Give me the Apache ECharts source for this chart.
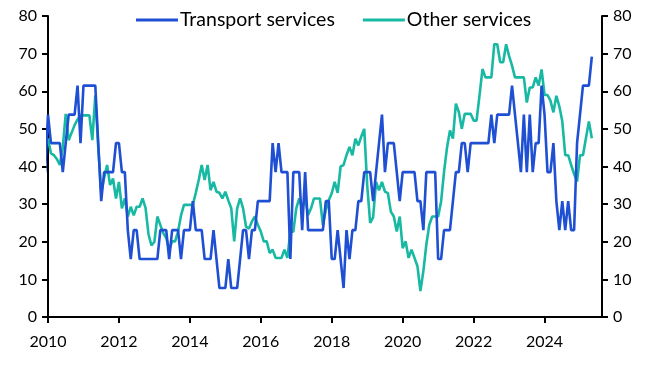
<!DOCTYPE html>
<html>
<head>
<meta charset="utf-8">
<script src="https://cdn.jsdelivr.net/npm/echarts@6/dist/echarts.min.js"></script>
<style>
html,body{margin:0;padding:0;background:#fff;}
#chart{width:657px;height:368px;}
</style>
</head>
<body>
<div id="chart"></div>
<script>
// Monthly series, first value = Dec 2009
const startYear = 2009;
const startMonth = 11; // 0-based month (December)
const seriesNames = ['Transport services', 'Other services'];
const xTickLabels = ['2010','2012','2014','2016','2018','2020','2022','2024'];
const yTickLabels = ['0','10','20','30','40','50','60','70','80'];

const transport = [
38.5,
53.8,46.2,46.2,46.2,46.2,38.5,46.2,53.8,53.8,53.8,61.5,46.2,
61.5,61.5,61.5,61.5,61.5,46.2,30.8,38.5,38.5,38.5,38.5,46.2,
46.2,38.5,38.5,23.1,15.4,23.1,23.1,15.4,15.4,15.4,15.4,15.4,
15.4,15.4,23.1,23.1,23.1,15.4,23.1,23.1,23.1,15.4,23.1,23.1,
23.1,30.8,23.1,23.1,23.1,15.4,15.4,15.4,23.1,15.4,7.7,7.7,
7.7,15.4,7.7,7.7,7.7,15.4,23.1,23.1,15.4,23.1,23.1,30.8,
30.8,30.8,30.8,30.8,46.2,38.5,46.2,38.5,38.5,38.5,15.4,38.5,
38.5,38.5,23.1,38.5,23.1,23.1,23.1,23.1,23.1,23.1,30.8,30.8,
15.4,15.4,23.1,15.4,7.7,23.1,15.4,23.1,23.1,30.8,30.8,38.5,
38.5,38.5,30.8,38.5,46.2,53.8,38.5,46.2,46.2,46.2,38.5,30.8,
38.5,38.5,38.5,38.5,38.5,30.8,30.8,23.1,38.5,38.5,38.5,38.5,
15.4,15.4,23.1,23.1,23.1,30.8,38.5,38.5,46.2,46.2,38.5,46.2,
46.2,46.2,46.2,46.2,46.2,46.2,53.8,46.2,53.8,53.8,53.8,53.8,
53.8,61.5,53.8,46.2,38.5,53.8,38.5,53.8,38.5,46.2,46.2,61.5,
53.8,38.5,38.5,46.2,30.8,23.1,30.8,23.1,30.8,23.1,23.1,46.2,
53.8,61.5,61.5,61.5,69.2
];

const other = [
46,
47.4,43.5,43,42,40.4,45,54,47,49,51,52.5,53.6,
53.6,53.6,53.6,47,58.9,45,33.3,37,40.4,35.1,36.8,31.5,
35.9,28.9,31.5,26.7,29.3,27,29.3,29.3,31.5,29,22,19,
20,26.7,24.5,22.3,21,17.9,20.1,20.1,22.7,27,29.8,29.8,
29.8,29.8,33,36.4,40.4,36.4,40.4,33.7,35.9,33.3,33,31.5,
33.3,31,28.9,20.1,28.9,31.5,28.9,24,23.5,25.4,26.7,24.5,
22.7,20.1,20.1,17,17.9,15.7,15.7,15.7,17.9,15.7,22.7,22.7,
28.9,31.5,28.9,31.5,27.1,28.9,31.5,31.5,31.5,24.5,28.4,31,
32.9,35.9,33,40,40.4,43,45.2,43,47.4,45.6,48,50,
35,25,26.5,35.9,33.7,35.9,33.3,32.9,28,26.7,22.7,26.7,
18.3,20.1,15.7,17.9,15.7,13.5,6.9,12.2,19.2,24.5,26.7,26.7,
26.7,30.7,38.6,45,49.6,47.4,56.7,54.5,50,54,54,54,
52.2,52.2,58.9,65.9,63.7,63.7,63.7,72.5,72.5,67.7,67.7,72.5,
69.4,66.8,63.7,63.7,63.7,63.7,57,61,61,63.7,61.5,65.8,
59,59,57.5,54.4,58.8,56,52,43,43,40.4,38,36,
43,43,47.5,52,47.5
];

function toXY(values) {
  return values.map((v, i) => [startYear + (startMonth + i) / 12, v]);
}

const black = '#000';
const fontFam = 'Lato, "Open Sans", sans-serif';
const labelFont = { color: black, fontSize: 16, fontFamily: fontFam };

const chart = echarts.init(document.getElementById('chart'), null, { renderer: 'canvas' });
chart.setOption({
  animation: false,
  backgroundColor: '#fff',
  grid: { left: 48, right: 55, top: 16, bottom: 51, containLabel: false },
  legend: {
    top: 5,
    left: 131,
    itemWidth: 42,
    itemHeight: 3,
    itemGap: 28,
    icon: 'rect',
    textStyle: { color: black, fontSize: 19.5, fontFamily: fontFam, padding: [0,0,0,-3] },
    data: seriesNames
  },
  xAxis: {
    type: 'value',
    min: 2010,
    max: 2025.62,
    interval: 2,
    splitLine: { show: false },
    axisLine: { show: true, onZero: false, lineStyle: { color: black, width: 2 } },
    axisTick: { show: true, length: 6, lineStyle: { color: black, width: 2 } },
    axisLabel: Object.assign({}, labelFont, {
      margin: 17,
      showMaxLabel: false,
      formatter: v => {
        const s = String(Math.round(v));
        return (Math.abs(v - Math.round(v)) < 1e-6 && xTickLabels.indexOf(s) >= 0) ? s : '';
      }
    })
  },
  yAxis: [
    {
      type: 'value', min: 0, max: 80, interval: 10, position: 'left',
      splitLine: { show: false },
      axisLine: { show: true, lineStyle: { color: black, width: 2 } },
      axisTick: { show: true, length: 6, lineStyle: { color: black, width: 2 } },
      axisLabel: Object.assign({}, labelFont, { margin: 11, formatter: v => yTickLabels[Math.round(v / 10)] })
    },
    {
      type: 'value', min: 0, max: 80, interval: 10, position: 'right',
      splitLine: { show: false },
      axisLine: { show: true, lineStyle: { color: black, width: 2 } },
      axisTick: { show: true, length: 6, lineStyle: { color: black, width: 2 } },
      axisLabel: Object.assign({}, labelFont, { margin: 11, formatter: v => yTickLabels[Math.round(v / 10)] })
    }
  ],
  series: [
    {
      name: seriesNames[0], type: 'line', yAxisIndex: 0, showSymbol: false, symbol: 'none',
      clip: true, z: 3,
      lineStyle: { color: '#1f4fd3', width: 2.6 }, itemStyle: { color: '#1f4fd3' },
      data: toXY(transport)
    },
    {
      name: seriesNames[1], type: 'line', yAxisIndex: 0, showSymbol: false, symbol: 'none',
      clip: true, z: 2,
      lineStyle: { color: '#18b9a3', width: 2.6 }, itemStyle: { color: '#18b9a3' },
      data: toXY(other)
    }
  ]
});
</script>
</body>
</html>
